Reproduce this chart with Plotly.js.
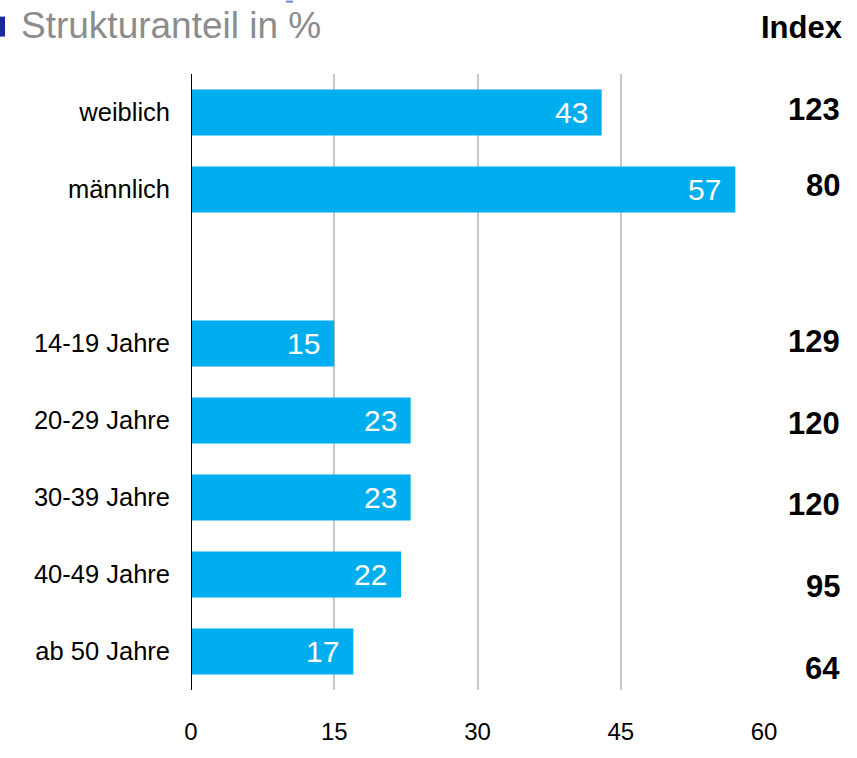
<!DOCTYPE html>
<html>
<head>
<meta charset="utf-8">
<script src="https://cdn.plot.ly/plotly-3.0.1.min.js"></script>
<style>html,body{margin:0;padding:0;background:#fff;}#chart{width:857px;height:758px;}</style>
</head>
<body>
<div id="chart"></div>
<script>
// Data
const categories = ["weiblich", "männlich", "14-19 Jahre", "20-29 Jahre", "30-39 Jahre", "40-49 Jahre", "ab 50 Jahre"];
const shares = [43, 57, 15, 23, 23, 22, 17];
const indexValues = [123, 80, 129, 120, 120, 95, 64];
const categoryOrder = ["weiblich", "männlich", " ", "14-19 Jahre", "20-29 Jahre", "30-39 Jahre", "40-49 Jahre", "ab 50 Jahre"];
const xTicks = [0, 15, 30, 45, 60];

const FONT = "Liberation Sans, Arial, sans-serif";
const W = 857, H = 758;
const L = 191, R = 93, T = 73.5, B = 67.5;
const pw = W - L - R, ph = H - T - B;
const px = v => (v - L) / pw;
const py = v => 1 - (v - T) / ph;

const indexShift = [3, 4, 2, -3, -7, -12, -17];

const annotations = [];
categories.forEach((c, i) => {
  annotations.push({
    x: shares[i], y: c, xref: "x", yref: "y",
    text: String(shares[i]), showarrow: false,
    xanchor: "right", yanchor: "middle", xshift: -12,
    font: {family: FONT, size: 30, color: "#ffffff"}
  });
  annotations.push({
    x: px(842), y: c, xref: "paper", yref: "y",
    text: "<b>" + indexValues[i] + "</b>", showarrow: false,
    xanchor: "right", yanchor: "middle", yshift: indexShift[i],
    font: {family: FONT, size: 31, color: "#000000"}
  });
});
annotations.push({
  x: px(845), y: py(27), xref: "paper", yref: "paper",
  text: "<b>Index</b>", showarrow: false, xanchor: "right", yanchor: "middle",
  font: {family: FONT, size: 31, color: "#000000"}
});

const data = [{
  type: "bar", orientation: "h",
  x: shares, y: categories,
  marker: {color: "#00AEEF", line: {width: 0}},
  width: 0.6,
  hoverinfo: "x+y"
}];

const layout = {
  width: W, height: H,
  margin: {l: L, r: R, t: T, b: B, pad: 0},
  paper_bgcolor: "#ffffff", plot_bgcolor: "#ffffff",
  showlegend: false,
  font: {family: FONT, color: "#000000"},
  title: {
    text: "Strukturanteil in %",
    x: 21 / W, xref: "container", xanchor: "left",
    y: 1 - 25 / H, yref: "container", yanchor: "middle",
    font: {family: FONT, size: 37, color: "#8c8c8c"}
  },
  xaxis: {
    range: [0, 60], tickvals: xTicks, ticktext: xTicks.map(String),
    showgrid: true, gridcolor: "#c8c8c8", gridwidth: 2,
    zeroline: false, showline: false, ticks: "",
    ticklabelstandoff: 25,
    tickfont: {family: FONT, size: 24, color: "#000000"},
    fixedrange: true
  },
  yaxis: {
    type: "category", categoryorder: "array", categoryarray: categoryOrder,
    range: [categoryOrder.length - 0.5, -0.5],
    showgrid: false, zeroline: false, showline: false, ticks: "",
    ticklabelstandoff: 20,
    tickfont: {family: FONT, size: 25.5, color: "#000000"},
    fixedrange: true
  },
  shapes: [
    {type: "line", xref: "x", yref: "paper", x0: 0, x1: 0, y0: 0, y1: 1,
     line: {color: "#000000", width: 2}},
    {type: "rect", xref: "paper", yref: "paper", x0: px(0), x1: px(5), y0: py(36), y1: py(16),
     fillcolor: "#1a2a9c", line: {width: 0}},
    {type: "rect", xref: "paper", yref: "paper", x0: px(286), x1: px(293), y0: py(2), y1: py(0),
     fillcolor: "#6f86d6", line: {width: 0}}
  ],
  annotations: annotations,
  bargap: 0.4
};

Plotly.newPlot("chart", data, layout, {displayModeBar: false, staticPlot: true});
</script>
</body>
</html>
